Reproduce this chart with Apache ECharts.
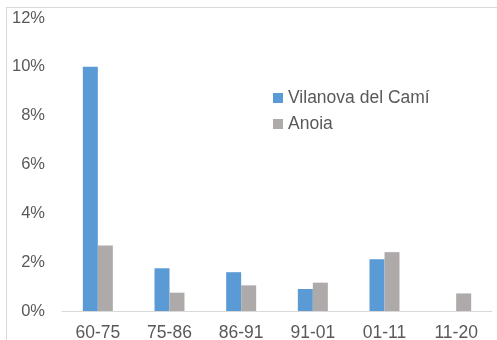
<!DOCTYPE html>
<html><head><meta charset="utf-8">
<script src="https://cdn.jsdelivr.net/npm/echarts@6/dist/echarts.min.js"></script>
<style>html,body{margin:0;padding:0;background:#fff}#c{width:497px;height:340px}</style>
</head><body><div id="c"></div>
<script>
const categories = ['60-75','75-86','86-91','91-01','01-11','11-20'];
const vilanova = [10.0, 1.75, 1.59, 0.90, 2.12, null];
const anoia = [2.68, 0.75, 1.05, 1.16, 2.41, 0.72];
const yTicks = [0, 2, 4, 6, 8, 10, 12];

const chart = echarts.init(document.getElementById('c'));
const font = 'Liberation Sans, Arial, sans-serif';
chart.setOption({
  animation: false,
  textStyle: { fontFamily: font },
  graphic: [
    { type: 'line', shape: { x1: 6, y1: 7.5, x2: 497, y2: 7.5 }, style: { stroke: '#d9d9d9', lineWidth: 1 } },
    { type: 'line', shape: { x1: 6.5, y1: 7, x2: 6.5, y2: 340 }, style: { stroke: '#d9d9d9', lineWidth: 1 } }
  ],
  grid: { left: 62, right: 5, top: 18, bottom: 29, containLabel: false, outerBoundsMode: 'none' },
  legend: {
    orient: 'vertical', left: 273, top: 89, padding: 0, itemWidth: 10, itemHeight: 10, itemGap: 8,
    icon: 'rect',
    textStyle: { fontSize: 17.5, color: '#595959', fontFamily: font },
    data: ['Vilanova del Camí', 'Anoia']
  },
  xAxis: {
    type: 'category', data: categories,
    axisLine: { lineStyle: { color: '#d9d9d9' } },
    axisTick: { show: false },
    axisLabel: { fontSize: 17.5, color: '#595959', margin: 13 }
  },
  yAxis: {
    type: 'value', min: yTicks[0], max: yTicks[yTicks.length-1], interval: 2,
    splitLine: { show: false },
    axisLine: { show: false }, axisTick: { show: false },
    axisLabel: { fontSize: 16.5, color: '#595959', margin: 17, formatter: v => v + '%' }
  },
  series: [
    { name: 'Vilanova del Camí', type: 'bar', data: vilanova, barWidth: 15, barGap: '0%',
      itemStyle: { color: '#5b9bd5' } },
    { name: 'Anoia', type: 'bar', data: anoia, barWidth: 15, barGap: '0%',
      itemStyle: { color: '#aeaaaa' } }
  ]
});
</script></body></html>
